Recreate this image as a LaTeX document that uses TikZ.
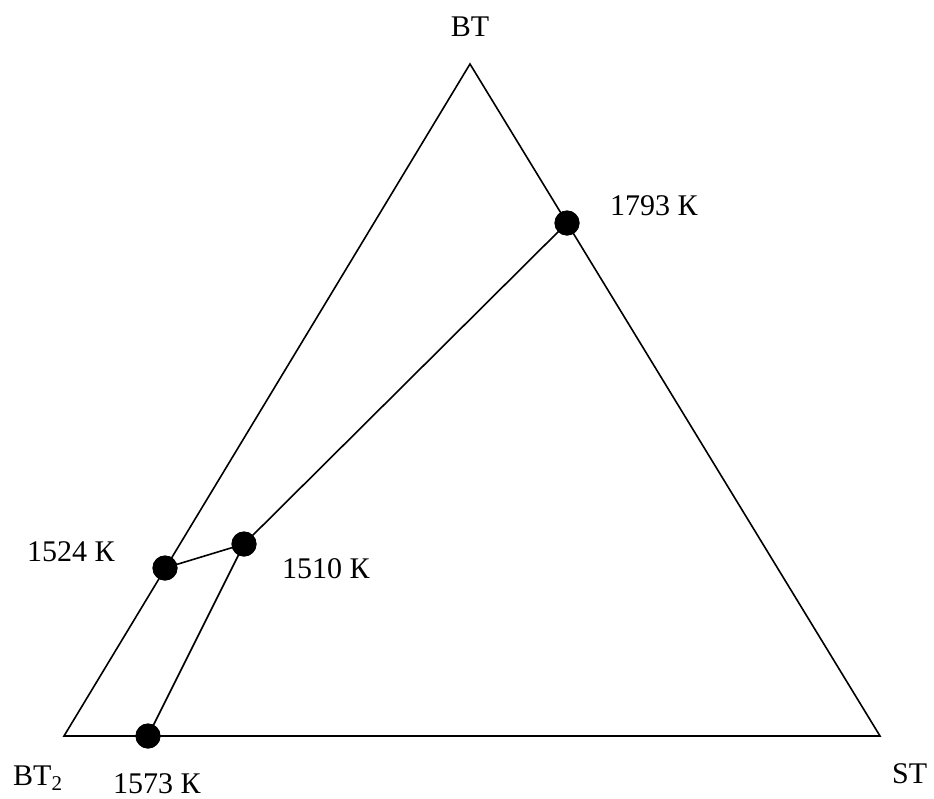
\documentclass[tikz,border=0pt]{standalone}
\usepackage{fontspec}
\setmainfont{Liberation Serif}
\begin{document}
\begin{tikzpicture}[x=1pt,y=-1pt,
  edge/.style={line width=1.6pt},
  dot/.style={circle,fill=black,inner sep=0pt,minimum size=25pt},
  lbl/.style={anchor=base west,inner sep=0pt,font=\fontsize{30}{36}\selectfont}]
\useasboundingbox (0,0) rectangle (934,798);
\coordinate (top) at (470,64);
\coordinate (bl) at (64,736);
\coordinate (br) at (880,736);
\draw[edge,line join=miter] (top) -- (bl) -- (br) -- cycle;
\node[dot] (p1793) at (567,223) {};
\node[dot] (p1524) at (165,568) {};
\node[dot] (p1510) at (244,544) {};
\node[dot] (p1573) at (148,736) {};
\draw[edge] (p1793.center) -- (p1510.center) -- (p1524.center);
\draw[edge] (p1510.center) -- (p1573.center);
\node[dot] at (567,223) {};
\node[dot] at (165,568) {};
\node[dot] at (244,544) {};
\node[dot] at (148,736) {};
\node[lbl,anchor=base] (tBT) at (470,36) {BT};
\node[lbl] (t1793) at (610,215) {1793 К};
\node[lbl] (t1524) at (27,561) {1524 К};
\node[lbl] (t1510) at (282,578) {1510 К};
\node[lbl] (tBT2) at (13,785) {BT\textsubscript{2}};
\node[lbl] (t1573) at (113,793) {1573 К};
\node[lbl] (tST) at (892,783) {ST};
\end{tikzpicture}
\end{document}
